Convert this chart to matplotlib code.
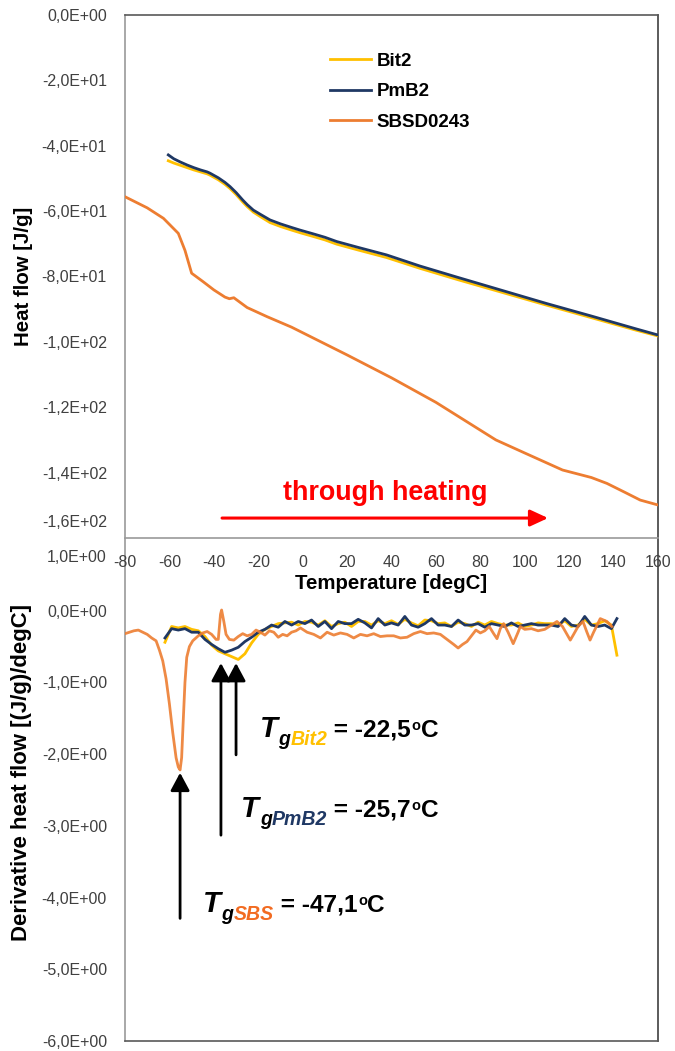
import matplotlib
matplotlib.use('Agg')
import matplotlib.pyplot as plt
from matplotlib import font_manager as fm
from matplotlib.ticker import FixedLocator

# ---------------- data ----------------
# top panel: heat flow [J/g] vs temperature [degC]
temp_pmb2 = [-60.5, -58, -55, -52, -49, -46, -43, -41.7, -38, -35, -32.7, -30, -27, -25, -22.2, -19,
             -14.7, -10, -5, -1.2, 5, 10, 15.3, 25, 37.8, 52.8, 70, 90, 110, 130, 150, 160]
hf_pmb2 = [-42.8, -44.0, -45.0, -45.9, -46.7, -47.4, -48.0, -48.4, -49.8, -51.2, -52.5, -54.3, -56.6,
           -58.0, -59.7, -61.0, -62.7, -63.9, -65.0, -65.8, -67.0, -68.0, -69.3, -71.1, -73.4, -76.8,
           -80.3, -84.3, -88.3, -92.1, -96.0, -97.9]
temp_bit2 = temp_pmb2
hf_bit2 = [-44.6, -45.3, -46.0, -46.7, -47.4, -48.0, -48.6, -49.0, -50.4, -51.8, -53.1, -54.9, -57.2,
           -58.6, -60.3, -61.7, -63.5, -64.7, -65.8, -66.6, -67.8, -68.8, -70.1, -71.9, -74.2, -77.5,
           -81.0, -84.9, -88.8, -92.6, -96.4, -98.2]
temp_sbs = [-80, -70, -62.7, -56, -53, -50, -45, -40, -35, -33, -31, -25, -16, -5, 5, 20, 40, 60, 87,
            100, 117, 130, 137, 145, 152, 160]
hf_sbs = [-55.6, -59.0, -62.2, -66.8, -72.0, -79.0, -81.5, -84.1, -86.3, -86.8, -86.5, -89.5, -92.3,
          -95.5, -98.9, -104.0, -111.0, -118.5, -130.0, -134.0, -139.2, -141.5, -143.3, -146.0, -148.4,
          -149.9]

# bottom panel: derivative heat flow [(J/g)/degC]
dtemp = [-62, -59, -56, -53, -50, -47, -44, -41, -38, -35, -32, -29, -26, -23, -20, -17, -14, -11, -8,
         -5, -2, 1, 4, 7, 10, 13, 16, 19, 22, 25, 28, 31, 34, 37, 40, 43, 46, 49, 52, 55, 58, 61, 64,
         67, 70, 73, 76, 79, 82, 85, 88, 91, 94, 97, 100, 103, 106, 109, 112, 115, 118, 121, 124, 127,
         130, 133, 136, 139, 141.5]
dhf_pmb2 = [-0.38, -0.25, -0.27, -0.25, -0.30, -0.30, -0.40, -0.47, -0.53, -0.58, -0.55, -0.51, -0.43,
            -0.37, -0.30, -0.26, -0.20, -0.23, -0.15, -0.20, -0.15, -0.18, -0.13, -0.22, -0.15, -0.25,
            -0.15, -0.18, -0.18, -0.12, -0.17, -0.24, -0.11, -0.20, -0.17, -0.20, -0.08, -0.20, -0.23,
            -0.18, -0.11, -0.20, -0.20, -0.22, -0.13, -0.20, -0.20, -0.18, -0.23, -0.18, -0.20, -0.22,
            -0.17, -0.22, -0.20, -0.18, -0.20, -0.20, -0.20, -0.22, -0.11, -0.20, -0.22, -0.08, -0.20,
            -0.22, -0.20, -0.25, -0.11]
dhf_bit2 = [-0.44, -0.22, -0.24, -0.22, -0.26, -0.28, -0.36, -0.48, -0.56, -0.60, -0.64, -0.68, -0.60,
            -0.45, -0.33, -0.26, -0.22, -0.18, -0.17, -0.16, -0.20, -0.15, -0.16, -0.20, -0.14, -0.22,
            -0.18, -0.16, -0.22, -0.15, -0.15, -0.20, -0.14, -0.18, -0.14, -0.19, -0.12, -0.17, -0.21,
            -0.13, -0.14, -0.18, -0.17, -0.22, -0.16, -0.18, -0.22, -0.16, -0.20, -0.15, -0.18, -0.20,
            -0.20, -0.17, -0.22, -0.20, -0.17, -0.18, -0.18, -0.20, -0.14, -0.22, -0.20, -0.12, -0.20,
            -0.18, -0.14, -0.20, -0.62]
dtemp_sbs = [-80, -78, -76, -74, -72, -70, -68, -66, -64.5, -63, -61.5, -60, -58.5, -57, -56, -55.2,
             -54.5, -53.8, -53, -52.2, -51, -49.5, -47, -45, -43, -41, -39, -38, -37, -36.5, -35.5,
             -34.5, -33, -31, -29, -27, -25, -23, -21, -19, -17, -15, -13, -11, -9, -7, -5, -3, -1, 2,
             5, 8, 11, 14, 17, 20, 23, 26, 29, 32, 35, 38, 41, 44, 47, 50, 53, 56, 59, 62, 65, 68, 70,
             72, 74, 76, 78, 80, 82, 84, 86, 87.5, 89, 90.5, 92.5, 94.8, 97, 98, 100, 103, 106, 109,
             112, 114.5, 117, 120.5, 122, 124, 126.2, 128, 129.4, 131, 134, 137, 139.2]
dhf_sbs = [-0.32, -0.30, -0.28, -0.27, -0.30, -0.33, -0.38, -0.42, -0.55, -0.70, -0.95, -1.30, -1.70,
           -2.05, -2.18, -2.22, -2.05, -1.55, -1.00, -0.65, -0.50, -0.42, -0.35, -0.31, -0.29, -0.33,
           -0.40, -0.40, -0.05, 0.01, -0.15, -0.33, -0.40, -0.41, -0.36, -0.32, -0.35, -0.33, -0.27,
           -0.30, -0.34, -0.28, -0.30, -0.37, -0.33, -0.35, -0.30, -0.28, -0.24, -0.30, -0.33, -0.38,
           -0.30, -0.34, -0.31, -0.33, -0.38, -0.33, -0.35, -0.32, -0.36, -0.35, -0.35, -0.38, -0.37,
           -0.32, -0.29, -0.32, -0.31, -0.33, -0.40, -0.47, -0.52, -0.47, -0.43, -0.35, -0.27, -0.31,
           -0.28, -0.22, -0.32, -0.39, -0.25, -0.18, -0.30, -0.46, -0.30, -0.22, -0.26, -0.25, -0.28,
           -0.26, -0.20, -0.15, -0.22, -0.41, -0.33, -0.22, -0.15, -0.30, -0.41, -0.30, -0.11, -0.15,
           -0.22]

series_names = ['Bit2', 'PmB2', 'SBSD0243']
series_colors = ['#FFC000', '#1F3864', '#ED7D31']

top_yticks = [0, -20, -40, -60, -80, -100, -120, -140, -160]
bot_yticks = [1, 0, -1, -2, -3, -4, -5, -6]
xticks = [-80, -60, -40, -20, 0, 20, 40, 60, 80, 100, 120, 140, 160]

# glass transition arrows: (x, tail y, tip y) and labels: (x, baseline y, subscript, colour, value)
tg_arrows = [(-30.0, -2.01, -0.73), (-36.8, -3.13, -0.73), (-55.2, -4.29, -2.26)]
tg_texts = [(-19.4, -1.757, 'Bit2', '#FFC000', '-22,5'),
            (-27.7, -2.873, 'PmB2', '#1F3864', '-25,7'),
            (-44.9, -4.197, 'SBS', '#F26B21', '-47,1')]


def sci_label(v):
    return f'{v:.1E}'.replace('.', ',')


# ---------------- fonts ----------------
_names = {f.name for f in fm.fontManager.ttflist}
if 'Liberation Sans Narrow' in _names:
    BF = ['Liberation Sans Narrow', 'Liberation Sans', 'DejaVu Sans']
    S = 1.0
    ST = 1.0
else:
    BF = ['Liberation Sans', 'DejaVu Sans']
    S = 0.84
    ST = 0.88
RF = ['Liberation Sans', 'DejaVu Sans']
plt.rcParams['font.family'] = RF

# ---------------- figure ----------------
fig = plt.figure(figsize=(6.75, 10.51), dpi=100)
ax1 = fig.add_axes([0.18519, 0.48811, 0.78963, 0.49762])
ax2 = fig.add_axes([0.18519, 0.009515, 0.78963, 0.47764])
ax2.patch.set_visible(False)
ax1.set_zorder(2)
ax2.set_zorder(1)

TICKCOL = '#404040'
TICKSIZE = 11.5

# top panel
ax1.plot(temp_bit2, hf_bit2, color=series_colors[0], lw=2.0, label=series_names[0], zorder=3)
ax1.plot(temp_pmb2, hf_pmb2, color=series_colors[1], lw=2.0, label=series_names[1], zorder=4)
ax1.plot(temp_sbs, hf_sbs, color=series_colors[2], lw=2.0, label=series_names[2], zorder=5)
ax1.set_xlim(-80, 160)
ax1.set_ylim(-160, 0)
ax1.xaxis.set_major_locator(FixedLocator(xticks))
ax1.set_xticklabels([str(t) for t in xticks])
ax1.yaxis.set_major_locator(FixedLocator(top_yticks))
ax1.set_yticklabels([sci_label(v) if v != -160 else '' for v in top_yticks])
ax1.tick_params(axis='both', length=0, labelsize=TICKSIZE, colors=TICKCOL)
ax1.tick_params(axis='x', pad=12)
ax1.tick_params(axis='y', pad=13)
ax1.annotate(sci_label(-160), xy=(0, -160), xycoords=('axes fraction', 'data'),
             xytext=(-13, 11), textcoords='offset points', ha='right', va='center',
             fontsize=TICKSIZE, color=TICKCOL)

ax1.set_xlabel('Temperature [degC]', fontsize=17.5 * S, fontweight='bold', family=BF)
ax1.xaxis.set_label_coords(0.5, -0.068)
ax1.set_ylabel('Heat flow [J/g]', fontsize=17.5 * S, fontweight='bold', family=BF)
ax1.yaxis.set_label_coords(-0.173, 0.5)

leg = ax1.legend(loc='upper left', bbox_to_anchor=(0.3846, 0.928), frameon=False,
                 borderpad=0, borderaxespad=0, handlelength=2.2, handletextpad=0.3,
                 labelspacing=0.72, prop={'family': RF, 'weight': 'bold', 'size': 13.5})

ax1.annotate('', xy=(110.5, -153.9), xytext=(-36.3, -153.9),
             arrowprops=dict(arrowstyle='-|>,head_length=10.8,head_width=5', mutation_scale=1,
                             color='#FF0000', lw=2.2, shrinkA=0, shrinkB=0))
ax1.text(37.1, -148.4, 'through heating', color='#FF0000', fontsize=23 * S, fontweight='bold',
         family=BF, ha='center', va='baseline')

# bottom panel
ax2.plot(dtemp, dhf_bit2, color=series_colors[0], lw=2.0, zorder=3)
ax2.plot(dtemp, dhf_pmb2, color=series_colors[1], lw=2.0, zorder=4)
ax2.plot(dtemp_sbs, dhf_sbs, color=series_colors[2], lw=2.0, zorder=5, alpha=0.9)
ax2.set_xlim(-80, 160)
ax2.set_ylim(-6, 1)
ax2.xaxis.set_major_locator(FixedLocator(xticks))
ax2.set_xticklabels([])
ax2.yaxis.set_major_locator(FixedLocator(bot_yticks))
ax2.set_yticklabels([sci_label(v) if v != 1 else '' for v in bot_yticks])
ax2.tick_params(axis='both', length=0, labelsize=TICKSIZE, colors=TICKCOL)
ax2.tick_params(axis='y', pad=13)
ax2.annotate(sci_label(1), xy=(0, 1), xycoords=('axes fraction', 'data'),
             xytext=(-13, -13), textcoords='offset points', ha='right', va='center',
             fontsize=TICKSIZE, color=TICKCOL)
ax2.set_ylabel('Derivative heat flow [(J/g)/degC]', fontsize=19 * S, fontweight='bold', family=BF)
ax2.yaxis.set_label_coords(-0.175, 0.535)

for (ax_x, y_tail, y_tip) in tg_arrows:
    ax2.annotate('', xy=(ax_x, y_tip), xytext=(ax_x, y_tail),
                 arrowprops=dict(arrowstyle='-|>,head_length=10.8,head_width=5.8', mutation_scale=1,
                                 color='black', lw=2.0, shrinkA=0, shrinkB=0), zorder=2)


def chain(ax, prev, y, s, size, dy, dx, color='black', style='normal'):
    return ax.annotate(s, xy=(1, y), xycoords=(prev, 'data'), xytext=(dx, dy),
                       textcoords='offset points', fontsize=size, fontweight='bold', style=style,
                       family=BF, color=color, va='baseline', ha='left')


for (tx, ty, sub, col, val) in tg_texts:
    t = ax2.text(tx, ty, 'T', fontsize=24 * ST, fontweight='bold', style='italic', family=BF,
                 va='baseline', ha='left')
    g = chain(ax2, t, ty, 'g', 16 * ST, -6, 0.3, style='italic')
    b = chain(ax2, g, ty, sub, 16 * ST, -6, 0.3, color=col, style='italic')
    e = chain(ax2, b, ty, ' = ' + val, 20 * ST, 0, 0)
    o = chain(ax2, e, ty, 'o', 12 * ST, 5, 0.5)
    c = chain(ax2, o, ty, 'C', 20 * ST, 0, 0.3)

# spines
for ax in (ax1, ax2):
    ax.spines['left'].set_color('#9a9a9a')
    ax.spines['right'].set_color('#404040')
    for sp in ax.spines.values():
        sp.set_linewidth(1.2)
ax1.spines['top'].set_color('#595959')
ax1.spines['bottom'].set_color('#9a9a9a')
ax2.spines['top'].set_visible(False)
ax2.spines['bottom'].set_color('#595959')

fig.savefig('out.png', dpi=100)
